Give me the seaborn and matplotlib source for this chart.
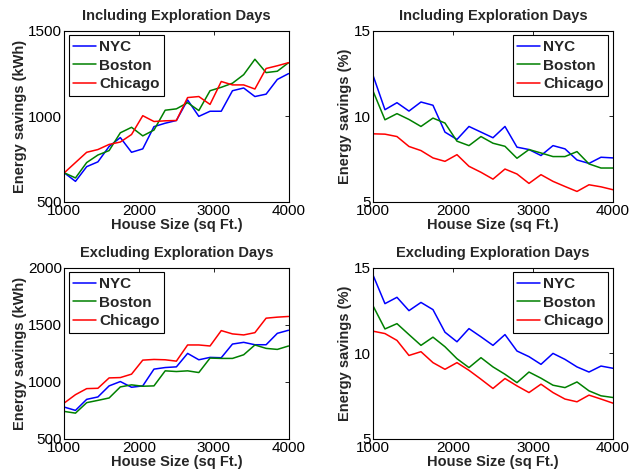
import numpy as np
import pandas as pd
import matplotlib
matplotlib.use("Agg")
import matplotlib.pyplot as plt
import seaborn as sns

# house sizes (sq ft), 21 steps of 150
house_size = list(range(1000, 4001, 150))
cities = ["NYC", "Boston", "Chicago"]

# Including exploration days - energy savings (kWh)
inc_kwh_nyc = [670, 620, 706, 734, 824, 876, 790, 810, 940, 960, 976,
               1096, 1000, 1030, 1030, 1150, 1166, 1116, 1130, 1216, 1250]
inc_kwh_boston = [670, 640, 730, 774, 800, 904, 936, 886, 920, 1036, 1044,
                  1080, 1034, 1150, 1170, 1194, 1244, 1334, 1256, 1264, 1314]
inc_kwh_chicago = [670, 730, 790, 806, 836, 850, 894, 1004, 970, 974, 976,
                   1110, 1116, 1070, 1204, 1184, 1184, 1160, 1280, 1296, 1314]

# Including exploration days - energy savings (%)
inc_pct_nyc = [12.41, 10.39, 10.80, 10.31, 10.84, 10.65, 9.08, 8.65, 9.41, 9.08, 8.75,
               9.41, 8.20, 8.06, 7.71, 8.29, 8.10, 7.45, 7.25, 7.61, 7.57]
inc_pct_boston = [11.49, 9.80, 10.16, 9.82, 9.41, 9.90, 9.61, 8.55, 8.29, 8.82, 8.43,
                  8.25, 7.55, 8.06, 7.86, 7.65, 7.65, 7.94, 7.22, 6.98, 6.98]
inc_pct_chicago = [8.98, 8.96, 8.82, 8.24, 8.00, 7.57, 7.37, 7.76, 7.08, 6.73, 6.33,
                   6.92, 6.63, 6.08, 6.59, 6.20, 5.90, 5.61, 6.00, 5.88, 5.71]

# Excluding exploration days - energy savings (kWh)
exc_kwh_nyc = [779, 750, 847, 868, 965, 1003, 953, 965, 1112, 1126, 1132,
               1250, 1194, 1215, 1212, 1332, 1347, 1326, 1326, 1426, 1453]
exc_kwh_boston = [741, 726, 818, 838, 859, 956, 974, 962, 965, 1097, 1091,
                  1097, 1082, 1209, 1206, 1206, 1238, 1324, 1294, 1285, 1315]
exc_kwh_chicago = [815, 888, 941, 944, 1035, 1038, 1068, 1191, 1197, 1194, 1182,
                   1324, 1324, 1315, 1450, 1421, 1412, 1432, 1559, 1568, 1574]

# Excluding exploration days - energy savings (%)
exc_pct_nyc = [14.59, 12.91, 13.28, 12.50, 12.98, 12.56, 11.24, 10.68, 11.45, 10.97, 10.47,
               11.10, 10.14, 9.81, 9.36, 10.00, 9.65, 9.21, 8.91, 9.26, 9.13]
exc_pct_boston = [12.79, 11.43, 11.74, 11.10, 10.47, 10.95, 10.39, 9.69, 9.17, 9.75, 9.21,
                  8.78, 8.29, 8.91, 8.55, 8.14, 8.00, 8.33, 7.81, 7.52, 7.42]
exc_pct_chicago = [11.30, 11.16, 10.76, 9.88, 10.10, 9.46, 9.07, 9.46, 9.01, 8.49, 7.95,
                   8.53, 8.10, 7.71, 8.20, 7.71, 7.33, 7.17, 7.56, 7.33, 7.09]

PALETTE = {"NYC": (0, 0, 1), "Boston": (0, 0.5, 0), "Chicago": (1, 0, 0)}


def make_frame(nyc, boston, chicago):
    rows = []
    for city, vals in zip(cities, [nyc, boston, chicago]):
        for x, v in zip(house_size, vals):
            rows.append({"House": x, "Savings": v, "City": city})
    return pd.DataFrame(rows)


sns.set_theme(style="white")
plt.rcParams.update({
    "font.family": ["Liberation Sans", "DejaVu Sans"],
    "xtick.direction": "in",
    "ytick.direction": "in",
    "xtick.top": True,
    "ytick.right": True,
    "xtick.major.size": 3,
    "ytick.major.size": 3,
    "xtick.major.width": 0.6,
    "ytick.major.width": 0.6,
    "axes.edgecolor": "black",
    "axes.linewidth": 0.8,
})

fig = plt.figure(figsize=(6.3, 4.75), dpi=100)

panels = [
    # (rect, data, title, ylabel, ylim, yticks, legend loc)
    ([0.102, 0.575, 0.356, 0.36], (inc_kwh_nyc, inc_kwh_boston, inc_kwh_chicago),
     "Including Exploration Days", "Energy savings (kWh)", (500, 1500), [500, 1000, 1500], "upper left"),
    ([0.592, 0.575, 0.381, 0.36], (inc_pct_nyc, inc_pct_boston, inc_pct_chicago),
     "Including Exploration Days", "Energy savings (%)", (5, 15), [5, 10, 15], "upper right"),
    ([0.102, 0.076, 0.356, 0.36], (exc_kwh_nyc, exc_kwh_boston, exc_kwh_chicago),
     "Excluding Exploration Days", "Energy savings (kWh)", (500, 2000), [500, 1000, 1500, 2000], "upper left"),
    ([0.592, 0.076, 0.381, 0.36], (exc_pct_nyc, exc_pct_boston, exc_pct_chicago),
     "Excluding Exploration Days", "Energy savings (%)", (5, 15), [5, 10, 15], "upper right"),
]

for rect, series, title, ylabel, ylim, yticks, loc in panels:
    ax = fig.add_axes(rect)
    df = make_frame(*series)
    sns.lineplot(data=df, x="House", y="Savings", hue="City", palette=PALETTE,
                 linewidth=1.1, ax=ax)
    ax.set_xlim(1000, 4000)
    ax.set_ylim(*ylim)
    ax.set_xticks([1000, 2000, 3000, 4000])
    ax.set_yticks(yticks)
    ax.tick_params(labelsize=11, pad=1.5, colors="black")
    ax.set_title(title, fontsize=10.5, fontweight="bold", pad=8)
    ax.set_xlabel("House Size (sq Ft.)", fontsize=10.5, fontweight="bold", labelpad=0)
    ax.set_ylabel(ylabel, fontsize=10.5, fontweight="bold", labelpad=1)
    leg = ax.legend(loc=loc, fancybox=False, framealpha=1, edgecolor="black",
                    prop={"weight": "bold", "size": 11}, handlelength=1.5,
                    handletextpad=0.2, borderpad=0.3, labelspacing=0.3,
                    borderaxespad=0.3)
    leg.get_frame().set_linewidth(0.8)

fig.savefig("out.png", dpi=100)
